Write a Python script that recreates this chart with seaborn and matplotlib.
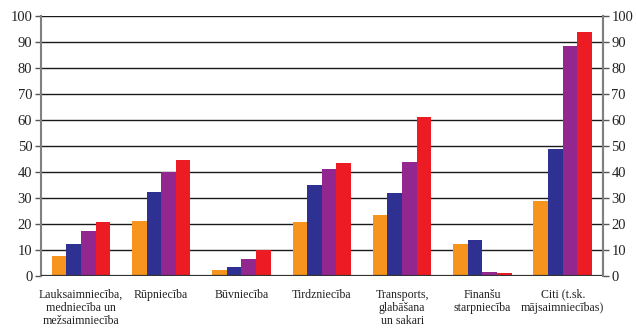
import matplotlib
matplotlib.use("Agg")
import matplotlib.pyplot as plt
import seaborn as sns
import pandas as pd

categories = [
    "Lauksaimniecība,\nmedniecība un\nmežsaimniecība",
    "Rūpniecība",
    "Būvniecība",
    "Tirdzniecība",
    "Transports,\nglabāšana\nun sakari",
    "Finanšu\nstarpniecība",
    "Citi (t.sk.\nmājsaimniecības)",
]
series = ["S1", "S2", "S3", "S4"]
s1 = [7.8, 21.3, 2.4, 20.9, 23.6, 12.4, 29.0]
s2 = [12.4, 32.4, 3.6, 35.1, 32.0, 14.0, 49.0]
s3 = [17.4, 40.0, 6.6, 41.3, 44.0, 1.6, 88.6]
s4 = [20.9, 44.6, 10.1, 43.6, 61.3, 1.3, 94.0]
yticks = list(range(0, 101, 10))

colors = ["#F7941D", "#2E3192", "#92278F", "#ED1C24"]

rows = []
for name, vals in zip(series, [s1, s2, s3, s4]):
    for cat, v in zip(categories, vals):
        rows.append({"cat": cat, "series": name, "value": v})
df = pd.DataFrame(rows)

sns.set_style("white")
plt.rcParams["font.family"] = ["Liberation Serif", "DejaVu Serif"]

fig = plt.figure(figsize=(6.36, 3.29), dpi=100)
ax = fig.add_axes([0.064, 0.161, 0.884, 0.79])

sns.barplot(data=df, x="cat", y="value", hue="series", order=categories,
            hue_order=series, palette=colors, width=0.73, gap=0,
            saturation=1, errorbar=None, legend=False, ax=ax, zorder=3,
            linewidth=0)

ax.set_ylim(0, 100)
ax.set_xlim(-0.5, len(categories) - 0.5)
ax.set_yticks(yticks)
ax.set_yticklabels([str(t) for t in yticks], fontsize=10.5, color="#222222")
ax.set_xlabel("")
ax.set_ylabel("")
ax.tick_params(axis="x", length=0, labelsize=8.6, pad=9, colors="#222222")
ax.tick_params(axis="y", left=True, direction="out", length=4, width=1,
               color="#555555", pad=2)
for lab in ax.get_xticklabels():
    lab.set_linespacing(1.12)
    lab.set_verticalalignment("top")

for t in yticks[1:]:
    ax.axhline(t, color="#1a1a1a", linewidth=1.0, zorder=1)
ax.axhline(0, color="#333333", linewidth=1.6, zorder=4)

for side in ["top", "bottom"]:
    ax.spines[side].set_visible(False)
for side in ["left", "right"]:
    ax.spines[side].set_color("#808080")
    ax.spines[side].set_linewidth(1.5)

ax2 = ax.twinx()
ax2.set_ylim(0, 100)
ax2.set_yticks(yticks)
ax2.set_yticklabels([str(t) for t in yticks], fontsize=10.5, color="#222222")
ax2.tick_params(axis="y", right=True, direction="out", length=4, width=1,
                color="#555555", pad=2)
for side in ["top", "bottom", "left"]:
    ax2.spines[side].set_visible(False)
ax2.spines["right"].set_color("#808080")
ax2.spines["right"].set_linewidth(1.5)

fig.savefig("out.png", dpi=100, facecolor="white")
